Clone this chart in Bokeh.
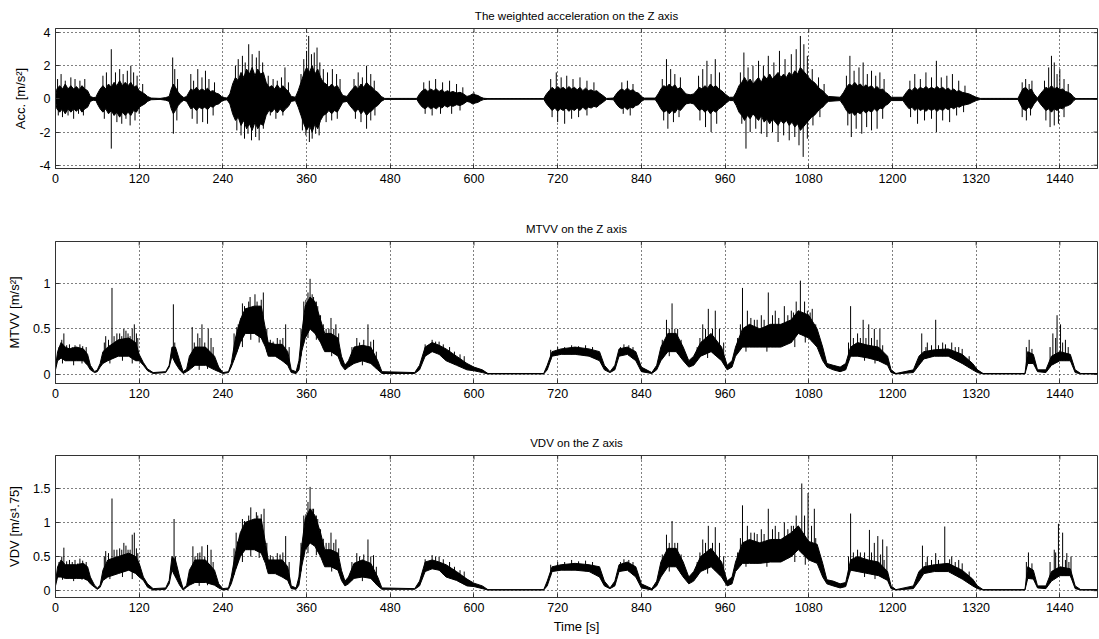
import numpy as np
from bokeh.plotting import figure
from bokeh.layouts import column
from bokeh.models import FixedTicker, ColumnDataSource, CustomJSTickFormatter
from bokeh.embed import file_html
from bokeh.resources import INLINE

# ---------------- data ----------------
time_ticks = [0, 120, 240, 360, 480, 600, 720, 840, 960, 1080, 1200, 1320, 1440]
acc_ticks = [-4, -2, 0, 2, 4]
mtvv_ticks = [0, 0.5, 1]
vdv_ticks = [0, 0.5, 1, 1.5]

# weighted acceleration: half-height of the dense core
acc_t = [0, 2, 6, 10, 14, 18, 22, 26, 30, 34, 38, 42, 46, 50, 54, 58,
         60, 64, 68, 72, 76, 80, 84, 88, 92, 96, 100, 104, 108, 112, 116, 120, 124, 128, 132, 137, 150, 158,
         163, 166, 169, 172, 176, 180, 184, 188,
         190, 194, 198, 202, 206, 210, 214, 218, 222, 226, 230, 234, 238, 242, 246,
         250, 254, 258, 262, 266, 270, 274, 278, 282, 286, 290, 294, 298, 302, 306, 310, 314, 318, 322, 326, 330, 334, 338, 344,
         348, 352, 356, 360, 364, 368, 372, 376, 380, 384, 388, 392, 396, 400, 404, 408, 412, 418,
         422, 426, 430, 434, 438, 442, 446, 450, 454, 458, 462, 467, 472, 518,
         522, 526, 530, 534, 538, 542, 546, 550, 554, 558, 562, 566, 570, 575, 580, 585, 590, 594, 598, 602, 606, 610, 614, 620, 700,
         704, 708, 712, 716, 720, 724, 728, 732, 736, 740, 744, 748, 752, 756, 760, 764, 768, 772, 776, 780, 785, 790, 800,
         804, 808, 812, 816, 820, 824, 828, 832, 836, 840, 844, 860,
         864, 868, 872, 876, 880, 884, 888, 892, 896, 900, 904, 910, 915,
         919, 923, 927, 931, 935, 939, 943, 947, 951, 955, 960, 966, 972,
         976, 980, 984, 988, 992, 996, 1000, 1004, 1008, 1012, 1016, 1020, 1024, 1028, 1032, 1036, 1040, 1044, 1048, 1052,
         1056, 1060, 1064, 1068, 1072, 1076, 1080, 1084, 1088, 1092, 1096, 1100, 1104, 1108, 1125,
         1130, 1134, 1138, 1142, 1146, 1150, 1154, 1158, 1162, 1166, 1170, 1174, 1178, 1182, 1186, 1190, 1194, 1198, 1215,
         1220, 1224, 1228, 1232, 1236, 1240, 1244, 1248, 1252, 1256, 1260, 1264, 1268, 1272, 1276, 1280, 1284, 1288, 1292,
         1296, 1300, 1305, 1310, 1315, 1320, 1326, 1380,
         1383, 1387, 1391, 1395, 1399, 1403, 1408, 1412, 1416, 1420, 1424, 1428, 1432, 1436, 1440, 1444, 1448, 1452, 1456,
         1460, 1463, 1494]
acc_env = [0.1, 0.6, 0.8, 0.6, 0.9, 0.6, 0.8, 0.6, 0.75, 0.55, 0.8, 0.6, 0.5, 0.15, 0.08, 0.1,
           0.3, 0.6, 0.8, 0.6, 0.9, 0.7, 1.0, 0.8, 1.1, 0.8, 1.0, 0.8, 1.0, 0.7, 0.8, 0.5, 0.4, 0.3, 0.15, 0.05, 0.03, 0.08,
           0.15, 0.6, 0.9, 0.7, 0.4, 0.2, 0.08, 0.15,
           0.3, 0.6, 0.5, 0.7, 0.5, 0.6, 0.5, 0.65, 0.45, 0.5, 0.35, 0.3, 0.15, 0.08, 0.05,
           0.3, 0.9, 1.3, 1.1, 1.6, 1.3, 1.8, 1.5, 1.9, 1.4, 1.8, 1.5, 1.6, 1.0, 0.7, 0.8, 0.6, 0.85, 0.6, 0.8, 0.6, 0.45, 0.15, 0.1,
           0.5, 1.0, 1.5, 1.9, 1.6, 2.0, 1.5, 1.8, 1.3, 1.0, 0.9, 0.7, 0.9, 0.7, 0.8, 0.5, 0.2, 0.15,
           0.4, 0.6, 0.8, 0.6, 0.9, 0.7, 1.0, 0.8, 0.7, 0.5, 0.4, 0.15, 0.03, 0.03,
           0.3, 0.5, 0.6, 0.45, 0.6, 0.5, 0.6, 0.45, 0.55, 0.4, 0.5, 0.4, 0.45, 0.35, 0.4, 0.3, 0.15, 0.2, 0.3, 0.25, 0.2, 0.1, 0.04, 0.02, 0.02,
           0.3, 0.5, 0.7, 0.55, 0.75, 0.6, 0.7, 0.55, 0.75, 0.6, 0.7, 0.55, 0.7, 0.5, 0.65, 0.5, 0.55, 0.45, 0.5, 0.35, 0.2, 0.03, 0.05,
           0.3, 0.5, 0.6, 0.5, 0.65, 0.5, 0.55, 0.4, 0.35, 0.15, 0.05, 0.05,
           0.3, 0.6, 0.8, 0.7, 0.9, 0.7, 0.85, 0.6, 0.7, 0.5, 0.3, 0.25, 0.3,
           0.5, 0.7, 0.6, 0.8, 0.65, 0.9, 0.7, 0.8, 0.6, 0.5, 0.3, 0.1, 0.1,
           0.4, 0.8, 1.0, 1.3, 1.0, 1.2, 0.9, 1.1, 1.3, 1.0, 1.4, 1.2, 1.5, 1.2, 1.4, 1.6, 1.3, 1.5, 1.3, 1.6,
           1.4, 1.7, 1.5, 1.9, 1.7, 1.5, 1.3, 1.1, 1.0, 0.8, 0.6, 0.5, 0.3, 0.15, 0.1,
           0.4, 0.7, 0.9, 0.8, 1.0, 0.8, 0.9, 0.7, 0.85, 0.7, 0.8, 0.6, 0.75, 0.55, 0.6, 0.4, 0.3, 0.1, 0.1,
           0.4, 0.6, 0.5, 0.7, 0.55, 0.7, 0.6, 0.75, 0.6, 0.7, 0.6, 0.75, 0.6, 0.7, 0.55, 0.65, 0.5, 0.6, 0.45,
           0.5, 0.4, 0.35, 0.3, 0.2, 0.1, 0.03, 0.03,
           0.3, 0.6, 0.7, 0.5, 0.6, 0.3, 0.05, 0.3, 0.5, 0.7, 0.6, 0.8, 0.6, 0.7, 0.55, 0.6, 0.45, 0.4, 0.3,
           0.1, 0.02, 0.02]

acc_spk_t = [3, 8, 14, 22, 28, 35, 42, 68, 73, 80, 86, 92, 97, 103, 108, 112, 117, 125, 168, 171,
             175, 194, 198, 204, 210, 215, 220, 228, 258, 262, 268, 272, 277, 282, 288, 292, 297,
             305, 312, 318, 324, 329, 334, 352, 356, 360, 363, 367, 371, 375, 379, 384, 390, 397,
             403, 408, 428, 434, 440, 446, 452, 457, 528, 536, 545, 555, 565, 575, 584, 600, 710,
             718, 725, 733, 742, 752, 762, 772, 812, 820, 828, 870, 876, 882, 888, 896, 922, 928,
             934, 940, 946, 952, 982, 987, 993, 1000, 1008, 1015, 1022, 1030, 1038, 1046, 1055,
             1062, 1068, 1073, 1078, 1085, 1094, 1102, 1134, 1139, 1145, 1152, 1158, 1164, 1170,
             1176, 1182, 1188, 1225, 1232, 1240, 1248, 1256, 1263, 1270, 1278, 1286, 1295, 1304,
             1386, 1391, 1396, 1400, 1418, 1424, 1428, 1432, 1436, 1440, 1446, 1452,
             4, 10, 18, 26, 33, 40, 70, 80, 88, 95, 101, 107, 114, 120, 169, 174, 196, 203, 211,
             218, 226, 260, 266, 271, 276, 281, 287, 292, 298, 308, 316, 326, 354, 359, 364, 368,
             373, 378, 388, 396, 404, 430, 438, 446, 452, 458, 530, 540, 552, 568, 580, 712, 720,
             730, 740, 750, 762, 814, 824, 872, 878, 886, 894, 924, 932, 940, 948, 984, 990, 996,
             1004, 1012, 1020, 1028, 1036, 1044, 1052, 1060, 1066, 1072, 1078, 1086, 1096, 1136,
             1141, 1148, 1156, 1163, 1170, 1178, 1186, 1226, 1236, 1246, 1256, 1263, 1272, 1282,
             1292, 1302, 1386, 1392, 1398, 1420, 1426, 1432, 1438, 1446]
acc_spk_v = [1.2, 1.5, 1.1, 1.3, 1.2, 1.1, 1.2, 1.4, 1.6, 3.0, 1.6, 1.8, 1.5, 1.7, 2.0, 1.6, 1.4,
             0.9, 2.5, 1.8, 1.2, 1.5, 1.1, 1.8, 1.3, 1.7, 1.2, 1.0, 2.0, 2.4, 2.6, 2.2, 3.3, 2.7, 2.5,
             2.9, 2.2, 1.4, 1.2, 1.1, 1.3, 1.9, 1.0, 1.5, 2.4, 2.9, 3.8, 2.7, 2.8, 3.1, 2.2, 1.8, 1.6,
             1.8, 1.5, 1.2, 1.2, 1.6, 1.3, 2.0, 1.5, 1.1, 1.0, 1.1, 1.2, 1.0, 1.1, 0.9, 0.7, 0.4, 1.2,
             1.6, 1.3, 1.4, 1.2, 1.3, 1.1, 1.0, 1.0, 1.1, 0.9, 1.2, 2.4, 1.8, 1.5, 1.3, 1.4, 1.8, 2.3,
             1.5, 2.4, 1.6, 1.6, 2.8, 1.9, 2.0, 2.3, 2.0, 2.6, 2.2, 2.9, 2.4, 2.7, 3.0, 3.8, 3.3, 2.6,
             1.8, 1.3, 0.9, 1.4, 2.6, 1.7, 1.9, 2.2, 1.5, 1.7, 1.4, 1.6, 1.2, 1.1, 1.5, 1.2, 1.6, 1.3,
             2.3, 1.3, 1.4, 1.5, 1.1, 0.8, 1.0, 1.2, 0.9, 1.1, 1.1, 1.9, 2.6, 2.2, 1.5, 1.8, 1.2, 0.9,
             -1.0, -1.1, -1.0, -1.2, -0.9, -1.0, -1.2, -3.0, -1.4, -1.5, -1.2, -1.6, -1.3, -0.9, -2.1,
             -1.3, -1.2, -1.5, -1.4, -1.5, -1.0, -1.9, -2.2, -2.4, -2.1, -2.5, -2.3, -2.5, -1.8, -1.0,
             -1.2, -1.0, -1.9, -2.2, -2.6, -2.4, -2.1, -2.2, -1.4, -1.3, -1.2, -1.2, -1.4, -1.8, -1.3,
             -1.0, -0.9, -1.0, -0.9, -0.9, -0.7, -1.1, -1.4, -1.5, -1.2, -1.1, -1.0, -0.9, -1.0, -1.3,
             -1.8, -1.4, -1.1, -1.3, -1.7, -2.0, -1.5, -1.5, -3.0, -2.0, -1.8, -2.1, -2.3, -2.0, -2.6,
             -2.2, -2.5, -2.3, -2.8, -3.5, -2.4, -1.6, -1.1, -1.6, -2.3, -1.8, -2.1, -1.7, -1.9, -1.8,
             -1.2, -1.1, -1.5, -1.3, -1.2, -2.0, -1.3, -1.4, -1.0, -0.8, -1.1, -1.3, -1.0, -1.3, -1.7,
             -1.6, -1.5, -1.1]

# MTVV: lower / upper edge of the band
mtvv_t = [0, 3, 8, 14, 20, 30, 40, 46, 50, 56, 60, 64, 68, 75, 90, 105, 115, 120, 126, 132, 140,
          158, 163, 167, 172, 178, 183, 188, 192, 200, 215, 228, 234, 240, 248, 252, 258, 265, 272,
          285, 295, 301, 305, 315, 325, 333, 338, 345, 349, 353, 358, 365, 372, 380, 386, 395, 405,
          410, 415, 420, 428, 440, 452, 462, 468, 515, 522, 530, 540, 550, 560, 575, 590, 600, 612,
          620, 700, 705, 712, 725, 745, 765, 780, 787, 795, 802, 808, 820, 832, 840, 855, 862, 868,
          878, 890, 900, 908, 915, 925, 940, 955, 963, 970, 975, 985, 995, 1010, 1025, 1040, 1055,
          1065, 1080, 1092, 1100, 1106, 1115, 1125, 1133, 1140, 1150, 1165, 1180, 1193, 1198, 1205,
          1230, 1238, 1245, 1260, 1280, 1300, 1315, 1322, 1330, 1390, 1394, 1402, 1408, 1420, 1428,
          1440, 1455, 1462, 1470, 1494]
mtvv_lo = [0.05, 0.15, 0.18, 0.15, 0.15, 0.15, 0.15, 0.1, 0.05, 0.02, 0.03, 0.08, 0.12, 0.15, 0.2,
           0.2, 0.15, 0.15, 0.1, 0.04, 0.01, 0.02, 0.08, 0.2, 0.12, 0.05, 0.01, 0.03, 0.05, 0.1,
           0.1, 0.05, 0.03, 0.01, 0.02, 0.08, 0.2, 0.35, 0.45, 0.45, 0.4, 0.3, 0.2, 0.2, 0.15, 0.1,
           0.02, 0.01, 0.05, 0.25, 0.4, 0.5, 0.45, 0.35, 0.25, 0.25, 0.2, 0.1, 0.05, 0.08, 0.12,
           0.15, 0.12, 0.05, 0.01, 0.01, 0.05, 0.2, 0.25, 0.22, 0.15, 0.1, 0.05, 0.04, 0.02, 0.005,
           0.005, 0.05, 0.2, 0.22, 0.22, 0.2, 0.15, 0.05, 0.02, 0.05, 0.2, 0.22, 0.15, 0.03, 0.01,
           0.05, 0.15, 0.25, 0.25, 0.15, 0.08, 0.1, 0.2, 0.25, 0.15, 0.05, 0.08, 0.2, 0.3, 0.3, 0.3,
           0.3, 0.3, 0.35, 0.45, 0.4, 0.3, 0.15, 0.08, 0.05, 0.03, 0.05, 0.2, 0.2, 0.18, 0.15, 0.1,
           0.02, 0.005, 0.02, 0.1, 0.17, 0.2, 0.2, 0.12, 0.05, 0.02, 0.005, 0.005, 0.12, 0.12, 0.03,
           0.02, 0.1, 0.15, 0.15, 0.02, 0.005, 0.005]
mtvv_hi = [0.08, 0.25, 0.35, 0.3, 0.28, 0.3, 0.28, 0.22, 0.1, 0.03, 0.05, 0.12, 0.25, 0.3, 0.38,
           0.4, 0.35, 0.22, 0.13, 0.06, 0.02, 0.03, 0.1, 0.3, 0.3, 0.15, 0.03, 0.06, 0.2, 0.3, 0.3,
           0.2, 0.08, 0.02, 0.03, 0.12, 0.4, 0.6, 0.72, 0.75, 0.75, 0.5, 0.35, 0.33, 0.33, 0.25,
           0.05, 0.03, 0.15, 0.45, 0.75, 0.85, 0.8, 0.6, 0.45, 0.45, 0.4, 0.2, 0.1, 0.15, 0.3, 0.32,
           0.3, 0.15, 0.03, 0.02, 0.1, 0.3, 0.35, 0.32, 0.28, 0.2, 0.12, 0.08, 0.05, 0.01, 0.01,
           0.1, 0.25, 0.28, 0.3, 0.28, 0.25, 0.1, 0.03, 0.1, 0.28, 0.3, 0.25, 0.08, 0.02, 0.1, 0.3,
           0.45, 0.45, 0.3, 0.15, 0.2, 0.35, 0.45, 0.3, 0.1, 0.15, 0.3, 0.5, 0.55, 0.5, 0.55, 0.55,
           0.6, 0.7, 0.65, 0.5, 0.3, 0.12, 0.1, 0.08, 0.12, 0.3, 0.35, 0.32, 0.3, 0.2, 0.05, 0.01,
           0.05, 0.2, 0.25, 0.27, 0.28, 0.22, 0.12, 0.05, 0.01, 0.01, 0.25, 0.22, 0.05, 0.05, 0.2,
           0.25, 0.22, 0.05, 0.01, 0.01]
mtvv_spk_t = [12, 20, 35, 72, 81, 88, 98, 104, 110, 113, 118, 169, 196, 204, 210, 219, 223, 262,
              268, 274, 279, 283, 286, 292, 298, 318, 330, 356, 362, 365, 370, 376, 395, 402, 432,
              448, 456, 540, 550, 720, 760, 815, 876, 884, 892, 928, 936, 946, 952, 985, 992, 1002,
              1012, 1022, 1032, 1045, 1055, 1062, 1068, 1074, 1085, 1140, 1150, 1158, 1166, 1174,
              1182, 1242, 1250, 1262, 1272, 1285, 1295, 1396, 1430, 1436, 1441, 1448]
mtvv_spk_v = [0.45, 0.33, 0.33, 0.42, 0.95, 0.45, 0.5, 0.45, 0.5, 0.55, 0.4, 0.77, 0.52, 0.45,
              0.55, 0.5, 0.4, 0.55, 0.78, 0.72, 0.85, 0.7, 0.88, 0.75, 0.9, 0.4, 0.55, 0.8, 0.9,
              1.05, 0.85, 0.75, 0.62, 0.55, 0.4, 0.55, 0.38, 0.38, 0.36, 0.3, 0.32, 0.33, 0.6, 0.78,
              0.5, 0.55, 0.72, 0.7, 0.5, 0.95, 0.7, 0.6, 0.65, 0.9, 0.7, 0.75, 0.7, 0.8, 1.03, 0.8,
              0.72, 0.75, 0.45, 0.6, 0.55, 0.5, 0.5, 0.45, 0.35, 0.6, 0.35, 0.35, 0.3, 0.38, 0.45,
              0.65, 0.55, 0.38]
# smaller ripples just above the MTVV band
mtvv_rip_t = [5, 9, 16, 24, 28, 32, 39, 44, 70, 76, 84, 92, 95, 101, 107, 116, 171, 199, 207, 214,
              226, 256, 260, 266, 271, 277, 289, 295, 303, 308, 312, 322, 326, 335, 352, 359, 368,
              374, 380, 384, 388, 392, 399, 406, 425, 436, 442, 452, 460, 530, 545, 556, 565, 572,
              580, 586, 710, 730, 740, 750, 770, 810, 822, 828, 870, 880, 888, 897, 920, 924, 932,
              942, 958, 978, 982, 997, 1006, 1016, 1028, 1037, 1050, 1058, 1078, 1082, 1090, 1137,
              1144, 1154, 1162, 1170, 1178, 1186, 1248, 1256, 1266, 1276, 1290, 1300, 1310, 1392,
              1400, 1426, 1434, 1444, 1452]
mtvv_rip_v = [0.3, 0.38, 0.32, 0.3, 0.32, 0.28, 0.31, 0.3, 0.35, 0.38, 0.42, 0.45, 0.42, 0.48,
              0.42, 0.45, 0.35, 0.35, 0.4, 0.35, 0.3, 0.45, 0.52, 0.62, 0.75, 0.8, 0.8, 0.82, 0.5,
              0.38, 0.36, 0.38, 0.4, 0.3, 0.5, 0.82, 0.88, 0.8, 0.65, 0.55, 0.5, 0.5, 0.5, 0.45, 0.3,
              0.35, 0.38, 0.36, 0.25, 0.33, 0.36, 0.33, 0.3, 0.25, 0.22, 0.2, 0.27, 0.3, 0.32, 0.31,
              0.3, 0.3, 0.32, 0.3, 0.38, 0.5, 0.5, 0.38, 0.3, 0.4, 0.5, 0.5, 0.35, 0.4, 0.55, 0.62,
              0.6, 0.6, 0.65, 0.62, 0.65, 0.68, 0.7, 0.68, 0.55, 0.35, 0.4, 0.4, 0.4, 0.4, 0.38, 0.32,
              0.3, 0.32, 0.32, 0.33, 0.3, 0.28, 0.2, 0.3, 0.28, 0.3, 0.4, 0.35, 0.3]
# short dips below the MTVV band
mtvv_dip_t = [10, 26, 38, 78, 96, 110, 206, 218, 268, 280, 292, 362, 374, 396, 440, 880, 935, 990,
              1020, 1060, 1075, 1160, 1175]
mtvv_dip_v = [0.12, 0.1, 0.12, 0.12, 0.15, 0.12, 0.05, 0.06, 0.3, 0.38, 0.35, 0.4, 0.38, 0.2, 0.1,
              0.2, 0.18, 0.25, 0.25, 0.3, 0.35, 0.15, 0.12]

# VDV: lower / upper edge of the band (same time breakpoints as MTVV)
vdv_lo = [0.07, 0.2, 0.2, 0.18, 0.18, 0.18, 0.18, 0.15, 0.1, 0.05, 0.02, 0.05, 0.15, 0.2, 0.25,
          0.3, 0.25, 0.2, 0.15, 0.05, 0.01, 0.02, 0.1, 0.3, 0.2, 0.08, 0.01, 0.05, 0.08, 0.12,
          0.12, 0.08, 0.04, 0.01, 0.02, 0.1, 0.3, 0.5, 0.6, 0.6, 0.55, 0.4, 0.25, 0.25, 0.2, 0.15,
          0.03, 0.02, 0.08, 0.35, 0.6, 0.7, 0.65, 0.5, 0.35, 0.35, 0.3, 0.15, 0.07, 0.1, 0.18, 0.2,
          0.18, 0.07, 0.02, 0.02, 0.07, 0.28, 0.32, 0.3, 0.2, 0.15, 0.07, 0.06, 0.03, 0.01, 0.01,
          0.07, 0.28, 0.3, 0.3, 0.28, 0.2, 0.07, 0.03, 0.07, 0.28, 0.3, 0.2, 0.04, 0.01, 0.07, 0.2,
          0.35, 0.35, 0.2, 0.1, 0.14, 0.28, 0.35, 0.2, 0.07, 0.1, 0.28, 0.4, 0.4, 0.4, 0.42, 0.42,
          0.5, 0.6, 0.45, 0.4, 0.2, 0.1, 0.07, 0.04, 0.06, 0.3, 0.28, 0.25, 0.22, 0.15, 0.03, 0.01,
          0.03, 0.14, 0.25, 0.28, 0.28, 0.17, 0.07, 0.03, 0.01, 0.01, 0.18, 0.17, 0.04, 0.03, 0.14,
          0.22, 0.22, 0.03, 0.01, 0.01]
vdv_hi = [0.12, 0.35, 0.45, 0.38, 0.38, 0.38, 0.4, 0.35, 0.2, 0.08, 0.04, 0.08, 0.3, 0.45, 0.5,
          0.55, 0.5, 0.4, 0.2, 0.1, 0.03, 0.04, 0.15, 0.5, 0.45, 0.2, 0.03, 0.08, 0.3, 0.45, 0.45,
          0.3, 0.1, 0.03, 0.04, 0.2, 0.55, 0.85, 1.0, 1.05, 1.05, 0.7, 0.45, 0.45, 0.45, 0.35,
          0.07, 0.04, 0.2, 0.65, 1.05, 1.2, 1.1, 0.85, 0.6, 0.6, 0.55, 0.3, 0.14, 0.2, 0.4, 0.45,
          0.4, 0.2, 0.04, 0.03, 0.14, 0.42, 0.45, 0.42, 0.38, 0.28, 0.17, 0.11, 0.07, 0.015, 0.015,
          0.14, 0.35, 0.38, 0.4, 0.38, 0.35, 0.14, 0.04, 0.14, 0.38, 0.42, 0.35, 0.1, 0.03, 0.14,
          0.42, 0.62, 0.62, 0.42, 0.2, 0.28, 0.5, 0.62, 0.42, 0.14, 0.2, 0.42, 0.7, 0.75, 0.7, 0.75,
          0.75, 0.85, 0.95, 0.72, 0.68, 0.4, 0.16, 0.14, 0.1, 0.12, 0.45, 0.5, 0.45, 0.42, 0.28,
          0.07, 0.015, 0.07, 0.28, 0.35, 0.38, 0.4, 0.3, 0.17, 0.07, 0.015, 0.015, 0.35, 0.3, 0.07,
          0.07, 0.28, 0.35, 0.32, 0.07, 0.015, 0.015]
vdv_spk_t = [12, 20, 35, 72, 81, 88, 98, 104, 110, 113, 118, 170, 197, 204, 210, 218, 223, 259,
             264, 268, 274, 280, 283, 288, 292, 299, 318, 330, 356, 362, 365, 370, 376, 395, 402,
             432, 448, 456, 540, 550, 720, 760, 815, 876, 884, 892, 928, 936, 946, 952, 985, 992,
             1002, 1012, 1022, 1032, 1045, 1055, 1062, 1070, 1074, 1079, 1088, 1140, 1150, 1167,
             1174, 1179, 1186, 1192, 1243, 1250, 1262, 1275, 1285, 1295, 1395, 1432, 1438, 1444,
             1450, 1456]
vdv_spk_v = [0.63, 0.45, 0.47, 0.58, 1.35, 0.6, 0.7, 0.6, 0.82, 0.85, 0.55, 1.05, 0.65, 0.55,
             0.65, 0.67, 0.6, 0.85, 0.8, 1.05, 1.0, 1.22, 1.0, 1.15, 1.05, 1.2, 0.55, 0.8, 1.1, 1.3,
             1.52, 1.2, 1.05, 0.85, 0.75, 0.55, 0.75, 0.52, 0.52, 0.5, 0.42, 0.44, 0.46, 0.82, 1.02,
             0.7, 0.75, 0.95, 0.93, 0.7, 1.25, 0.95, 0.85, 0.9, 1.2, 0.95, 1.0, 0.95, 1.1, 1.57, 1.1,
             1.43, 1.2, 1.13, 0.6, 0.89, 0.7, 0.8, 0.75, 0.65, 0.66, 0.5, 0.55, 0.94, 0.5, 0.45, 0.56,
             0.6, 0.98, 0.85, 0.55, 0.5]
vdv_rip_t = [5, 9, 16, 24, 28, 32, 39, 44, 70, 76, 84, 92, 95, 101, 107, 116, 172, 200, 207, 214,
             226, 256, 261, 266, 271, 277, 290, 295, 303, 308, 312, 322, 326, 335, 352, 359, 368,
             374, 380, 384, 388, 392, 399, 406, 425, 436, 442, 452, 460, 530, 545, 556, 565, 572,
             580, 586, 710, 730, 740, 750, 770, 810, 822, 828, 870, 880, 888, 897, 920, 924, 932,
             942, 958, 978, 982, 997, 1006, 1016, 1028, 1037, 1050, 1058, 1084, 1090, 1137, 1144,
             1154, 1160, 1170, 1183, 1188, 1248, 1256, 1266, 1282, 1290, 1300, 1310, 1392, 1400,
             1426, 1434, 1448, 1453]
vdv_rip_v = [0.42, 0.5, 0.43, 0.42, 0.45, 0.4, 0.44, 0.42, 0.5, 0.55, 0.6, 0.62, 0.6, 0.66, 0.6,
             0.62, 0.5, 0.5, 0.56, 0.5, 0.42, 0.62, 0.72, 0.85, 1.02, 1.1, 1.1, 1.12, 0.7, 0.52,
             0.5, 0.53, 0.56, 0.42, 0.7, 1.12, 1.2, 1.1, 0.9, 0.76, 0.7, 0.7, 0.7, 0.62, 0.42, 0.5,
             0.53, 0.5, 0.35, 0.46, 0.5, 0.46, 0.42, 0.35, 0.3, 0.28, 0.38, 0.42, 0.45, 0.43, 0.42,
             0.42, 0.45, 0.42, 0.53, 0.7, 0.7, 0.53, 0.42, 0.56, 0.7, 0.7, 0.5, 0.56, 0.77, 0.85,
             0.83, 0.83, 0.9, 0.86, 0.9, 0.95, 0.95, 0.77, 0.5, 0.56, 0.56, 0.56, 0.56, 0.53, 0.45,
             0.42, 0.45, 0.45, 0.46, 0.42, 0.4, 0.28, 0.42, 0.4, 0.42, 0.56, 0.45, 0.42]
vdv_dip_t = [10, 26, 38, 78, 96, 110, 206, 218, 268, 280, 292, 362, 374, 396, 440, 880, 935, 990,
             1020, 1060, 1075, 1160, 1175]
vdv_dip_v = [0.16, 0.14, 0.16, 0.17, 0.2, 0.17, 0.07, 0.08, 0.42, 0.5, 0.48, 0.55, 0.52, 0.28, 0.14,
             0.28, 0.25, 0.35, 0.35, 0.42, 0.38, 0.2, 0.17]

# ---------------- styling helpers ----------------
FONT = "Liberation Sans"
AX_COLOR = "#333333"
X_MAX = 1494
FRAME_W = 1042
TICK_LEN = 4  # px, inward


def make_fig(title, ylabel, yrange, yticks, fh, btop, bbot, xlabel=None):
    p = figure(frame_width=FRAME_W, frame_height=fh, x_range=(0, X_MAX), y_range=yrange,
               output_backend="svg", toolbar_location=None,
               min_border_left=55, min_border_right=2, min_border_top=btop, min_border_bottom=bbot,
               background_fill_color="white", border_fill_color="white")
    p.title.text = title
    p.title.align = "center"
    p.title.text_font = FONT
    p.title.text_font_size = "11.5px"
    p.title.text_font_style = "normal"
    p.title.text_color = "black"
    p.title.standoff = 13
    p.outline_line_color = AX_COLOR
    p.outline_line_width = 1

    fmt = CustomJSTickFormatter(code="return tick.toString();")
    for ax, ticks in ((p.xaxis[0], time_ticks), (p.yaxis[0], yticks)):
        ax.ticker = FixedTicker(ticks=ticks)
        ax.major_tick_in = TICK_LEN
        ax.major_tick_out = 0
        ax.minor_tick_line_color = None
        ax.axis_line_color = AX_COLOR
        ax.major_tick_line_color = AX_COLOR
        ax.major_label_text_font = FONT
        ax.major_label_text_font_size = "12.5px"
        ax.major_label_text_color = "black"
        ax.major_label_standoff = 5
        ax.formatter = fmt
        ax.axis_label_text_font = FONT
        ax.axis_label_text_font_size = "13px"
        ax.axis_label_text_font_style = "normal"
        ax.axis_label_text_color = "black"
    p.yaxis[0].axis_label = ylabel
    p.yaxis[0].axis_label_standoff = 8
    if xlabel:
        p.xaxis[0].axis_label = xlabel
        p.xaxis[0].axis_label_standoff = 4

    p.xgrid.ticker = FixedTicker(ticks=time_ticks)
    p.ygrid.ticker = FixedTicker(ticks=yticks)
    for g in (p.xgrid[0], p.ygrid[0]):
        g.grid_line_color = "black"
        g.grid_line_dash = "1 3"
        g.grid_line_width = 1

    # box ticks on the top and right edges (inward, as on the bottom and left)
    y0, y1 = yrange
    ly = TICK_LEN * (y1 - y0) / fh
    lx = TICK_LEN * X_MAX / FRAME_W
    p.segment(x0=time_ticks, y0=[y1] * len(time_ticks), x1=time_ticks,
              y1=[y1 - ly] * len(time_ticks), line_color=AX_COLOR, line_width=1)
    p.segment(x0=[X_MAX] * len(yticks), y0=yticks, x1=[X_MAX - lx] * len(yticks), y1=yticks,
              line_color=AX_COLOR, line_width=1)
    return p


# ---------------- acceleration ----------------
p1 = make_fig("The weighted acceleration on the Z axis", "Acc. [m/s\u00b2]", (-4.2, 4.25),
              acc_ticks, 140, 28, 37)
env = np.array(acc_env)
src_acc = ColumnDataSource(dict(t=acc_t, hi=env, lo=-env))
p1.varea(x="t", y1="lo", y2="hi", source=src_acc, fill_color="black")
p1.line(x="t", y="hi", source=src_acc, line_color="black", line_width=1)
p1.line(x="t", y="lo", source=src_acc, line_color="black", line_width=1)
p1.segment(x0=acc_spk_t, y0=[0] * len(acc_spk_t), x1=acc_spk_t, y1=acc_spk_v,
           line_color="black", line_width=1)


def band_fig(p, t, lo, hi, spk_t, spk_v, rip_t, rip_v, dip_t, dip_v):
    src = ColumnDataSource(dict(t=t, lo=lo, hi=hi))
    p.varea(x="t", y1="lo", y2="hi", source=src, fill_color="black")
    p.line(x="t", y="hi", source=src, line_color="black", line_width=1)
    p.line(x="t", y="lo", source=src, line_color="black", line_width=1)
    st = list(spk_t) + list(rip_t)
    sv = list(spk_v) + list(rip_v)
    base = np.interp(st, t, lo)
    p.segment(x0=st, y0=base, x1=st, y1=sv, line_color="black", line_width=1)
    top = np.interp(dip_t, t, hi)
    p.segment(x0=dip_t, y0=top, x1=dip_t, y1=dip_v, line_color="black", line_width=1)


# ---------------- MTVV ----------------
p2 = make_fig("MTVV on the Z axis", "MTVV [m/s\u00b2]", (-0.1, 1.46), mtvv_ticks, 142, 36, 36)
band_fig(p2, mtvv_t, mtvv_lo, mtvv_hi, mtvv_spk_t, mtvv_spk_v, mtvv_rip_t, mtvv_rip_v,
         mtvv_dip_t, mtvv_dip_v)

# ---------------- VDV ----------------
p3 = make_fig("VDV on the Z axis", "VDV [m/s\u00b9.75]", (-0.1, 1.98), vdv_ticks, 142, 36, 40,
              xlabel="Time [s]")
band_fig(p3, mtvv_t, vdv_lo, vdv_hi, vdv_spk_t, vdv_spk_v, vdv_rip_t, vdv_rip_v,
         vdv_dip_t, vdv_dip_v)

layout = column(p1, p2, p3, spacing=0)
open("out.html", "w").write(file_html(layout, INLINE))
